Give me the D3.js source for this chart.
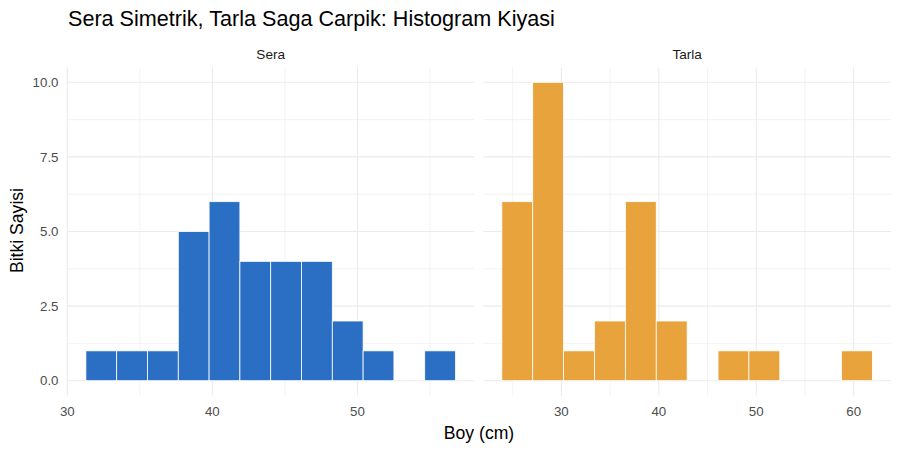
<!DOCTYPE html>
<html><head><meta charset="utf-8">
<script src="https://cdn.jsdelivr.net/npm/d3@7"></script>
<style>body{margin:0;background:#fff}text{font-family:"Liberation Sans",Arial,sans-serif}</style>
</head><body><svg id="c" width="900" height="450"></svg>
<script>
const title = "Sera Simetrik, Tarla Saga Carpik: Histogram Kiyasi";
const panels = ["Sera", "Tarla"];
const seraRange = [31.28, 56.76];
const tarlaRange = [23.89, 61.93];
const nBins = 12;
const seraCounts = [1, 1, 1, 5, 6, 4, 4, 4, 2, 1, 0, 1];
const tarlaCounts = [6, 10, 1, 2, 6, 2, 0, 1, 1, 0, 0, 1];
const seraXTicks = [30, 40, 50];
const tarlaXTicks = [30, 40, 50, 60];
const seraXMinor = [35, 45, 55];
const tarlaXMinor = [25, 35, 45, 55];
const yTicks = [0, 2.5, 5, 7.5, 10];
const yMinor = [1.25, 3.75, 6.25, 8.75];
const colors = ["#2A6FC4", "#E8A33D"];

const svg = d3.select("#c");
const pTop = 67.4, pBottom = 395.6;
const y = d3.scaleLinear().domain([-0.5, 10.5]).range([pBottom, pTop]);
const layout = [
  {name: panels[0], range: seraRange, counts: seraCounts, ticks: seraXTicks, minor: seraXMinor, x0: 67.4, x1: 474, color: colors[0]},
  {name: panels[1], range: tarlaRange, counts: tarlaCounts, ticks: tarlaXTicks, minor: tarlaXMinor, x0: 483.3, x1: 891, color: colors[1]}
];
const grid = "#EBEBEB";

layout.forEach(p => {
  const span = p.range[1] - p.range[0];
  const x = d3.scaleLinear().domain([p.range[0] - 0.05 * span, p.range[1] + 0.05 * span]).range([p.x0, p.x1]);
  const g = svg.append("g");
  g.selectAll(".ym").data(yMinor).join("line").attr("class", "ym").attr("x1", p.x0).attr("x2", p.x1)
    .attr("y1", d => y(d)).attr("y2", d => y(d)).attr("stroke", grid).attr("stroke-width", 0.6);
  g.selectAll(".xm").data(p.minor).join("line").attr("class", "xm").attr("y1", pTop).attr("y2", pBottom)
    .attr("x1", d => x(d)).attr("x2", d => x(d)).attr("stroke", grid).attr("stroke-width", 0.6);
  g.selectAll(".yM").data(yTicks).join("line").attr("class", "yM").attr("x1", p.x0).attr("x2", p.x1)
    .attr("y1", d => y(d)).attr("y2", d => y(d)).attr("stroke", grid).attr("stroke-width", 1.1);
  g.selectAll(".xM").data(p.ticks).join("line").attr("class", "xM").attr("y1", pTop).attr("y2", pBottom)
    .attr("x1", d => x(d)).attr("x2", d => x(d)).attr("stroke", grid).attr("stroke-width", 1.1);
  const w = span / nBins;
  const bins = p.counts.map((c, i) => ({a: p.range[0] + i * w, b: p.range[0] + (i + 1) * w, c}));
  g.selectAll("rect").data(bins.filter(d => d.c > 0)).join("rect")
    .attr("x", d => x(d.a)).attr("width", d => x(d.b) - x(d.a))
    .attr("y", d => y(d.c)).attr("height", d => y(0) - y(d.c))
    .attr("fill", p.color).attr("stroke", "#fff").attr("stroke-width", 0.8);
  g.selectAll(".xt").data(p.ticks).join("text").attr("class", "xt").attr("x", d => x(d)).attr("y", 416)
    .attr("text-anchor", "middle").attr("font-size", 13.3).attr("fill", "#4D4D4D").text(d => d);
  g.append("text").attr("x", (p.x0 + p.x1) / 2).attr("y", 59.3).attr("text-anchor", "middle")
    .attr("font-size", 13.6).attr("fill", "#1A1A1A").text(p.name);
});

svg.selectAll(".yt").data(yTicks).join("text").attr("class", "yt").attr("x", 58.5).attr("y", d => y(d)).attr("dy", "0.35em")
  .attr("text-anchor", "end").attr("font-size", 13.3).attr("fill", "#4D4D4D").text(d => d.toFixed(1));

svg.append("text").attr("x", 68).attr("y", 26).attr("font-size", 21.6).attr("fill", "#000").text(title);
svg.append("text").attr("x", 479).attr("y", 438.5).attr("text-anchor", "middle").attr("font-size", 17.6).attr("fill", "#000").text("Boy (cm)");
svg.append("text").attr("transform", "translate(23,230.5) rotate(-90)").attr("text-anchor", "middle").attr("font-size", 17.6).attr("fill", "#000").text("Bitki Sayisi");
</script></body></html>
